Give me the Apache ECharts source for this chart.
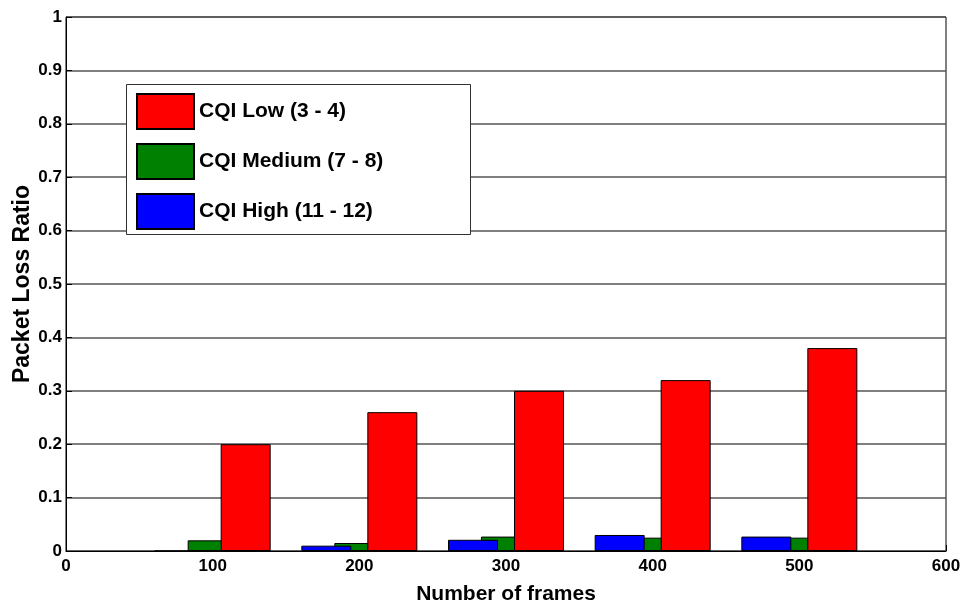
<!DOCTYPE html>
<html>
<head>
<meta charset="utf-8">
<script src="https://cdn.jsdelivr.net/npm/echarts@6/dist/echarts.min.js"></script>
<style>html,body{margin:0;padding:0;background:#fff;}#c{width:964px;height:610px;}</style>
</head>
<body>
<div id="c"></div>
<script>
const frames = [100, 200, 300, 400, 500];
const cqiLow = [0.20, 0.26, 0.30, 0.32, 0.38];
const cqiMedium = [0.020, 0.015, 0.027, 0.025, 0.025];
const cqiHigh = [0, 0.010, 0.021, 0.030, 0.027];
const seriesNames = ['CQI Low (3 - 4)', 'CQI Medium (7 - 8)', 'CQI High (11 - 12)'];
const xLabel = 'Number of frames';
const yLabel = 'Packet Loss Ratio';

const pairs = arr => frames.map((f, i) => [f, arr[i]]);
const font = 'Liberation Sans, Arial, sans-serif';

const chart = echarts.init(document.getElementById('c'));
const barCommon = {
  type: 'bar',
  barWidth: 50,
  barGap: '-34%'
};
chart.setOption({
  animation: false,
  backgroundColor: '#fff',
  grid: { left: 66, right: 18, top: 17, bottom: 59, outerBoundsMode: 'none', containLabel: false, show: true, borderColor: '#000', borderWidth: 1, backgroundColor: 'transparent' },
  graphic: [{
    type: 'rect', left: 126, top: 84, z: 10,
    shape: { width: 344, height: 150 },
    style: { fill: '#fff', stroke: '#333', lineWidth: 1 }
  }],
  legend: {
    data: seriesNames,
    orient: 'vertical', left: 136, top: 93, padding: 0, z: 20,
    icon: 'rect',
    itemWidth: 57, itemHeight: 35, itemGap: 13,
    textStyle: { fontFamily: font, fontSize: 21, fontWeight: 'bold', color: '#000' }
  },
  xAxis: {
    type: 'value', min: 0, max: 600, interval: 100,
    name: xLabel, nameLocation: 'middle', nameGap: 33, nameMoveOverlap: false,
    nameTextStyle: { fontFamily: font, fontSize: 21, fontWeight: 'bold', color: '#000' },
    axisLine: { show: true, lineStyle: { color: '#000', width: 1 } },
    axisTick: { show: true, inside: true, length: 6, lineStyle: { color: '#000' } },
    axisLabel: { fontFamily: font, fontSize: 17, fontWeight: 'bold', color: '#000', margin: 7 },
    splitLine: { show: false }
  },
  yAxis: {
    type: 'value', min: 0, max: 1, interval: 0.1,
    name: yLabel, nameLocation: 'middle', nameGap: 32, nameMoveOverlap: false,
    nameTextStyle: { fontFamily: font, fontSize: 23, fontWeight: 'bold', color: '#000' },
    axisLine: { show: true, lineStyle: { color: '#000', width: 1 } },
    axisTick: { show: true, inside: true, length: 6, lineStyle: { color: '#000' } },
    axisLabel: { fontFamily: font, fontSize: 17, fontWeight: 'bold', color: '#000', margin: 4 },
    splitLine: { show: true, lineStyle: { color: '#555', width: 1.5 } }
  },
  series: [
    Object.assign({}, barCommon, { name: seriesNames[2], data: pairs(cqiHigh), z: 3, itemStyle: { color: '#0000ff', borderColor: '#000', borderWidth: 1 } }),
    Object.assign({}, barCommon, { name: seriesNames[1], data: pairs(cqiMedium), z: 2, itemStyle: { color: '#008000', borderColor: '#000', borderWidth: 1 } }),
    Object.assign({}, barCommon, { name: seriesNames[0], data: pairs(cqiLow), z: 3, itemStyle: { color: '#ff0000', borderColor: '#000', borderWidth: 1 } })
  ]
});
</script>
</body>
</html>
